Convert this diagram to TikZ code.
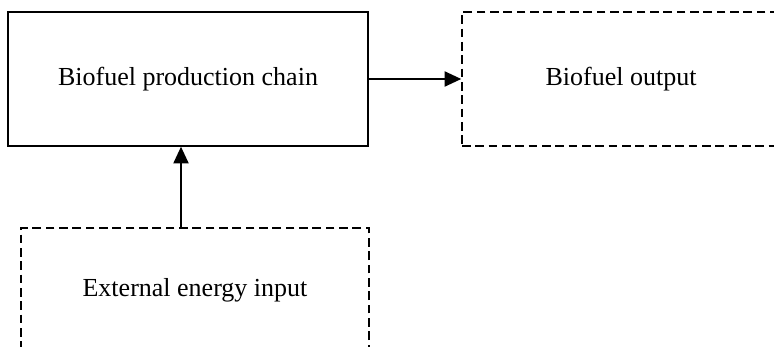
\documentclass[tikz,border=0pt]{standalone}
\usepackage{fontspec}
\setmainfont{Liberation Serif}
\usetikzlibrary{positioning,arrows.meta}

\begin{document}
\begin{tikzpicture}[x=0.75pt,y=-0.75pt,
	every node/.style={draw,rectangle,line width=1.2pt,inner sep=0pt,font=\fontsize{19.5}{23}\selectfont},
	dashbox/.style={dash pattern=on 6.5pt off 3.5pt},
	link/.style={line width=0.9pt,-{Triangle[length=12.5pt,width=11.5pt]}}]
\clip (0,0) rectangle (774,346);
\node[minimum width=360*0.75pt,minimum height=134*0.75pt] (chain) at (188,79) {Biofuel production chain};
\node[dashbox,minimum width=318*0.75pt,minimum height=134*0.75pt] (output) at (621,79) {Biofuel output};
\node[dashbox,minimum width=348*0.75pt,minimum height=124*0.75pt] (input) at (195,290) {External energy input};
\coordinate (arrowx) at (181,0);
\draw[link](chain)--(output);
\draw[link](input.north -| arrowx)--(chain.south -| arrowx);
\end{tikzpicture}
\end{document}
